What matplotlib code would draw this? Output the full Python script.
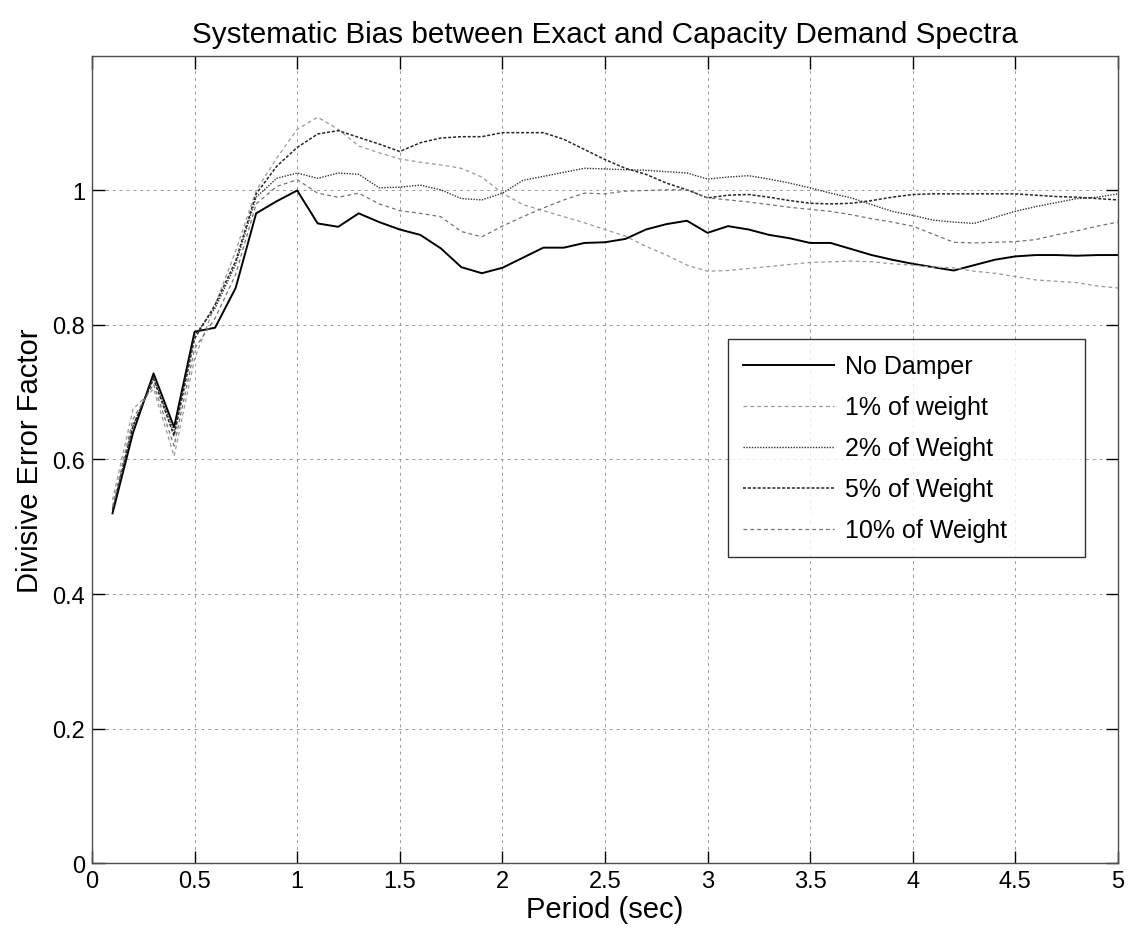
import numpy as np
import matplotlib
matplotlib.use("Agg")
import matplotlib.pyplot as plt

plt.rcParams["font.family"] = ["Liberation Sans", "DejaVu Sans"]

# Period values (sec), 0.1 .. 5.0
period = [round(0.1 * i, 1) for i in range(1, 51)]

# Divisive error factor
no_damper = [0.520, 0.640, 0.728, 0.648, 0.790, 0.796, 0.855, 0.966, 0.984, 1.000,
             0.951, 0.946, 0.966, 0.953, 0.942, 0.934, 0.914, 0.886, 0.877, 0.885,
             0.900, 0.915, 0.915, 0.922, 0.923, 0.928, 0.942, 0.950, 0.955, 0.937,
             0.947, 0.942, 0.934, 0.929, 0.922, 0.922, 0.913, 0.904, 0.897, 0.891,
             0.886, 0.881, 0.889, 0.897, 0.902, 0.904, 0.904, 0.903, 0.904, 0.904]

w1pct = [0.540, 0.675, 0.705, 0.605, 0.750, 0.830, 0.910, 1.000, 1.048, 1.091,
         1.109, 1.091, 1.066, 1.056, 1.047, 1.042, 1.038, 1.033, 1.020, 0.996,
         0.979, 0.970, 0.961, 0.952, 0.942, 0.932, 0.917, 0.904, 0.889, 0.880,
         0.881, 0.884, 0.887, 0.890, 0.893, 0.894, 0.895, 0.894, 0.891, 0.889,
         0.886, 0.885, 0.880, 0.877, 0.872, 0.867, 0.865, 0.863, 0.858, 0.855]

w2pct = [0.525, 0.650, 0.722, 0.640, 0.785, 0.825, 0.890, 0.990, 1.018, 1.026,
         1.018, 1.026, 1.024, 1.004, 1.005, 1.008, 1.001, 0.988, 0.986, 0.996,
         1.015, 1.021, 1.027, 1.033, 1.032, 1.031, 1.030, 1.028, 1.026, 1.017,
         1.020, 1.022, 1.017, 1.011, 1.004, 0.996, 0.989, 0.979, 0.969, 0.963,
         0.956, 0.953, 0.951, 0.960, 0.969, 0.976, 0.982, 0.988, 0.990, 0.995]

w5pct = [0.525, 0.650, 0.720, 0.635, 0.780, 0.830, 0.895, 0.995, 1.036, 1.064,
         1.084, 1.089, 1.079, 1.069, 1.058, 1.071, 1.078, 1.080, 1.080, 1.086,
         1.086, 1.086, 1.076, 1.061, 1.046, 1.033, 1.024, 1.011, 1.001, 0.989,
         0.993, 0.994, 0.990, 0.985, 0.981, 0.980, 0.981, 0.985, 0.990, 0.994,
         0.995, 0.995, 0.995, 0.995, 0.995, 0.993, 0.991, 0.990, 0.988, 0.986]

w10pct = [0.530, 0.660, 0.712, 0.620, 0.765, 0.810, 0.875, 0.980, 1.006, 1.016,
          0.996, 0.990, 0.996, 0.980, 0.970, 0.966, 0.961, 0.939, 0.931, 0.947,
          0.961, 0.974, 0.986, 0.996, 0.995, 0.999, 1.000, 1.001, 1.001, 0.989,
          0.986, 0.983, 0.979, 0.975, 0.972, 0.969, 0.964, 0.958, 0.953, 0.947,
          0.935, 0.923, 0.922, 0.923, 0.924, 0.927, 0.934, 0.940, 0.947, 0.953]

labels = ["No Damper", "1% of weight", "2% of Weight", "5% of Weight", "10% of Weight"]

fig = plt.figure(figsize=(11.36, 9.45), dpi=100)
ax = fig.add_axes([0.081, 0.0857, 0.903, 0.854])

ax.plot(period, no_damper, color="black", lw=1.4, ls="-", label=labels[0])
ax.plot(period, w1pct, color="0.6", lw=0.9, ls=(0, (3, 2.5)), label=labels[1])
ax.plot(period, w2pct, color="0.2", lw=1.0, ls=(0, (1, 1)), label=labels[2])
ax.plot(period, w5pct, color="0.15", lw=1.1, ls=(0, (2, 1.2)), label=labels[3])
ax.plot(period, w10pct, color="0.45", lw=0.9, ls=(0, (3, 2.5)), label=labels[4])

ax.set_xlim(0, 5)
ax.set_ylim(0, 1.2)
ax.set_xticks(np.arange(0, 5.01, 0.5))
ax.set_xticklabels(["0", "0.5", "1", "1.5", "2", "2.5", "3", "3.5", "4", "4.5", "5"])
ax.set_yticks([0, 0.2, 0.4, 0.6, 0.8, 1.0])
ax.set_yticklabels(["0", "0.2", "0.4", "0.6", "0.8", "1"])
ax.grid(True, color="0.6", ls=(0, (3, 4)), lw=0.7)
ax.tick_params(direction="in", top=True, right=True, length=9, width=1.0,
               labelsize=17, pad=5)
for sp in ax.spines.values():
    sp.set_linewidth(1.0)
    sp.set_color("0.3")

ax.set_xlabel("Period (sec)", fontsize=21, labelpad=2)
ax.set_ylabel("Divisive Error Factor", fontsize=21, labelpad=6)
ax.set_title("Systematic Bias between Exact and Capacity Demand Spectra",
             fontsize=21.3, pad=10)

# legend box spans a fixed region of the axes (MATLAB-like wide box)
leg = ax.legend(loc="upper left", bbox_to_anchor=(0.620, 0.380, 0.348, 0.269),
                mode="expand", fontsize=18,
                frameon=True, fancybox=False, edgecolor="black",
                handlelength=3.65, labelspacing=0.68, borderpad=0.6,
                handletextpad=0.44, borderaxespad=0.0)
leg.get_frame().set_linewidth(1.0)

fig.savefig("out.png", dpi=100)
